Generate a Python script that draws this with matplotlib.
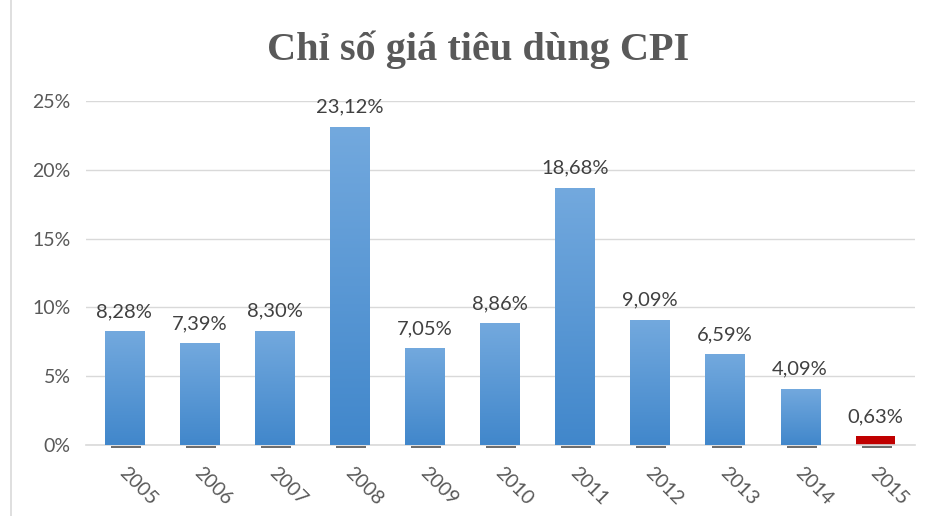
import matplotlib
matplotlib.use("Agg")
import matplotlib.pyplot as plt
import numpy as np
from matplotlib.lines import Line2D
from matplotlib.colors import LinearSegmentedColormap
from matplotlib.transforms import ScaledTranslation

years = ["2005", "2006", "2007", "2008", "2009", "2010", "2011", "2012", "2013", "2014", "2015"]
cpi = [8.28, 7.39, 8.30, 23.12, 7.05, 8.86, 18.68, 9.09, 6.59, 4.09, 0.63]
labels = ["8,28%", "7,39%", "8,30%", "23,12%", "7,05%", "8,86%", "18,68%", "9,09%", "6,59%", "4,09%", "0,63%"]
marker_series = [-0.2] * 11
yticks = [0, 5, 10, 15, 20, 25]
ytick_labels = ["0%", "5%", "10%", "15%", "20%", "25%"]
title = "Chỉ số giá tiêu dùng CPI"

plt.rcParams['font.family'] = ['Lato', 'DejaVu Sans']
fig = plt.figure(figsize=(9.32, 5.16), dpi=100)
ax = fig.add_axes([86/932, 71/516, (915-86)/932, (445-101)/516])

x = np.arange(len(years))
colors = ["#5B9BD5"] * (len(years) - 1) + ["#C00000"]
bars = ax.bar(x, cpi, width=0.52, color=colors, zorder=2)

grad = np.linspace(0, 1, 256).reshape(-1, 1)
cmap = LinearSegmentedColormap.from_list("g", ["#4187CB", "#73A9DE"])
for b, c in zip(bars, colors):
    if c != "#5B9BD5":
        continue
    x0, y0 = b.get_x(), b.get_y()
    w, h = b.get_width(), b.get_height()
    im = ax.imshow(grad, extent=[x0, x0 + w, y0, y0 + h], origin="lower",
                   cmap=cmap, aspect="auto", zorder=3)
    im.set_clip_path(b)

ax.bar(x + 0.02, marker_series, width=0.4, bottom=-0.05, color="#6E6E6E",
       zorder=2, clip_on=False)

for xi, v, lab in zip(x, cpi, labels):
    ax.annotate(lab, (xi, v), xytext=(0, 8), textcoords="offset points",
                ha="center", va="bottom", fontsize=14.5, color="#404040")

ax.set_xlim(-0.51, 10.53)
ax.set_ylim(0, 25)
ax.set_yticks(yticks)
ax.set_yticklabels(ytick_labels, fontsize=14, color="#595959")
ax.set_xticks(x)
ax.set_xticklabels(years, rotation=-45, ha="left", rotation_mode="anchor",
                   fontsize=14, color="#595959")
ax.tick_params(axis="both", length=0)
ax.tick_params(axis="y", pad=11)
ax.tick_params(axis="x", pad=14)
shift = ScaledTranslation(4/100, 0, fig.dpi_scale_trans)
for lbl in ax.get_xticklabels():
    lbl.set_transform(lbl.get_transform() + shift)
ax.grid(axis="y", color="#D9D9D9", linewidth=1, zorder=0)
ax.set_axisbelow(True)
for s in ["top", "right", "left"]:
    ax.spines[s].set_visible(False)
ax.spines["bottom"].set_color("#D9D9D9")
ax.spines["bottom"].set_linewidth(1.2)

fig.text(478/932, 1 - 50/516, title, ha="center", va="center",
         fontsize=29, fontweight="bold", color="#595959",
         family=["Liberation Serif", "DejaVu Serif"])

fig.add_artist(Line2D([11/932, 11/932], [0, 1], color="#D9D9D9", linewidth=1.2,
                      transform=fig.transFigure))

fig.savefig("out.png", dpi=100, facecolor="white")
